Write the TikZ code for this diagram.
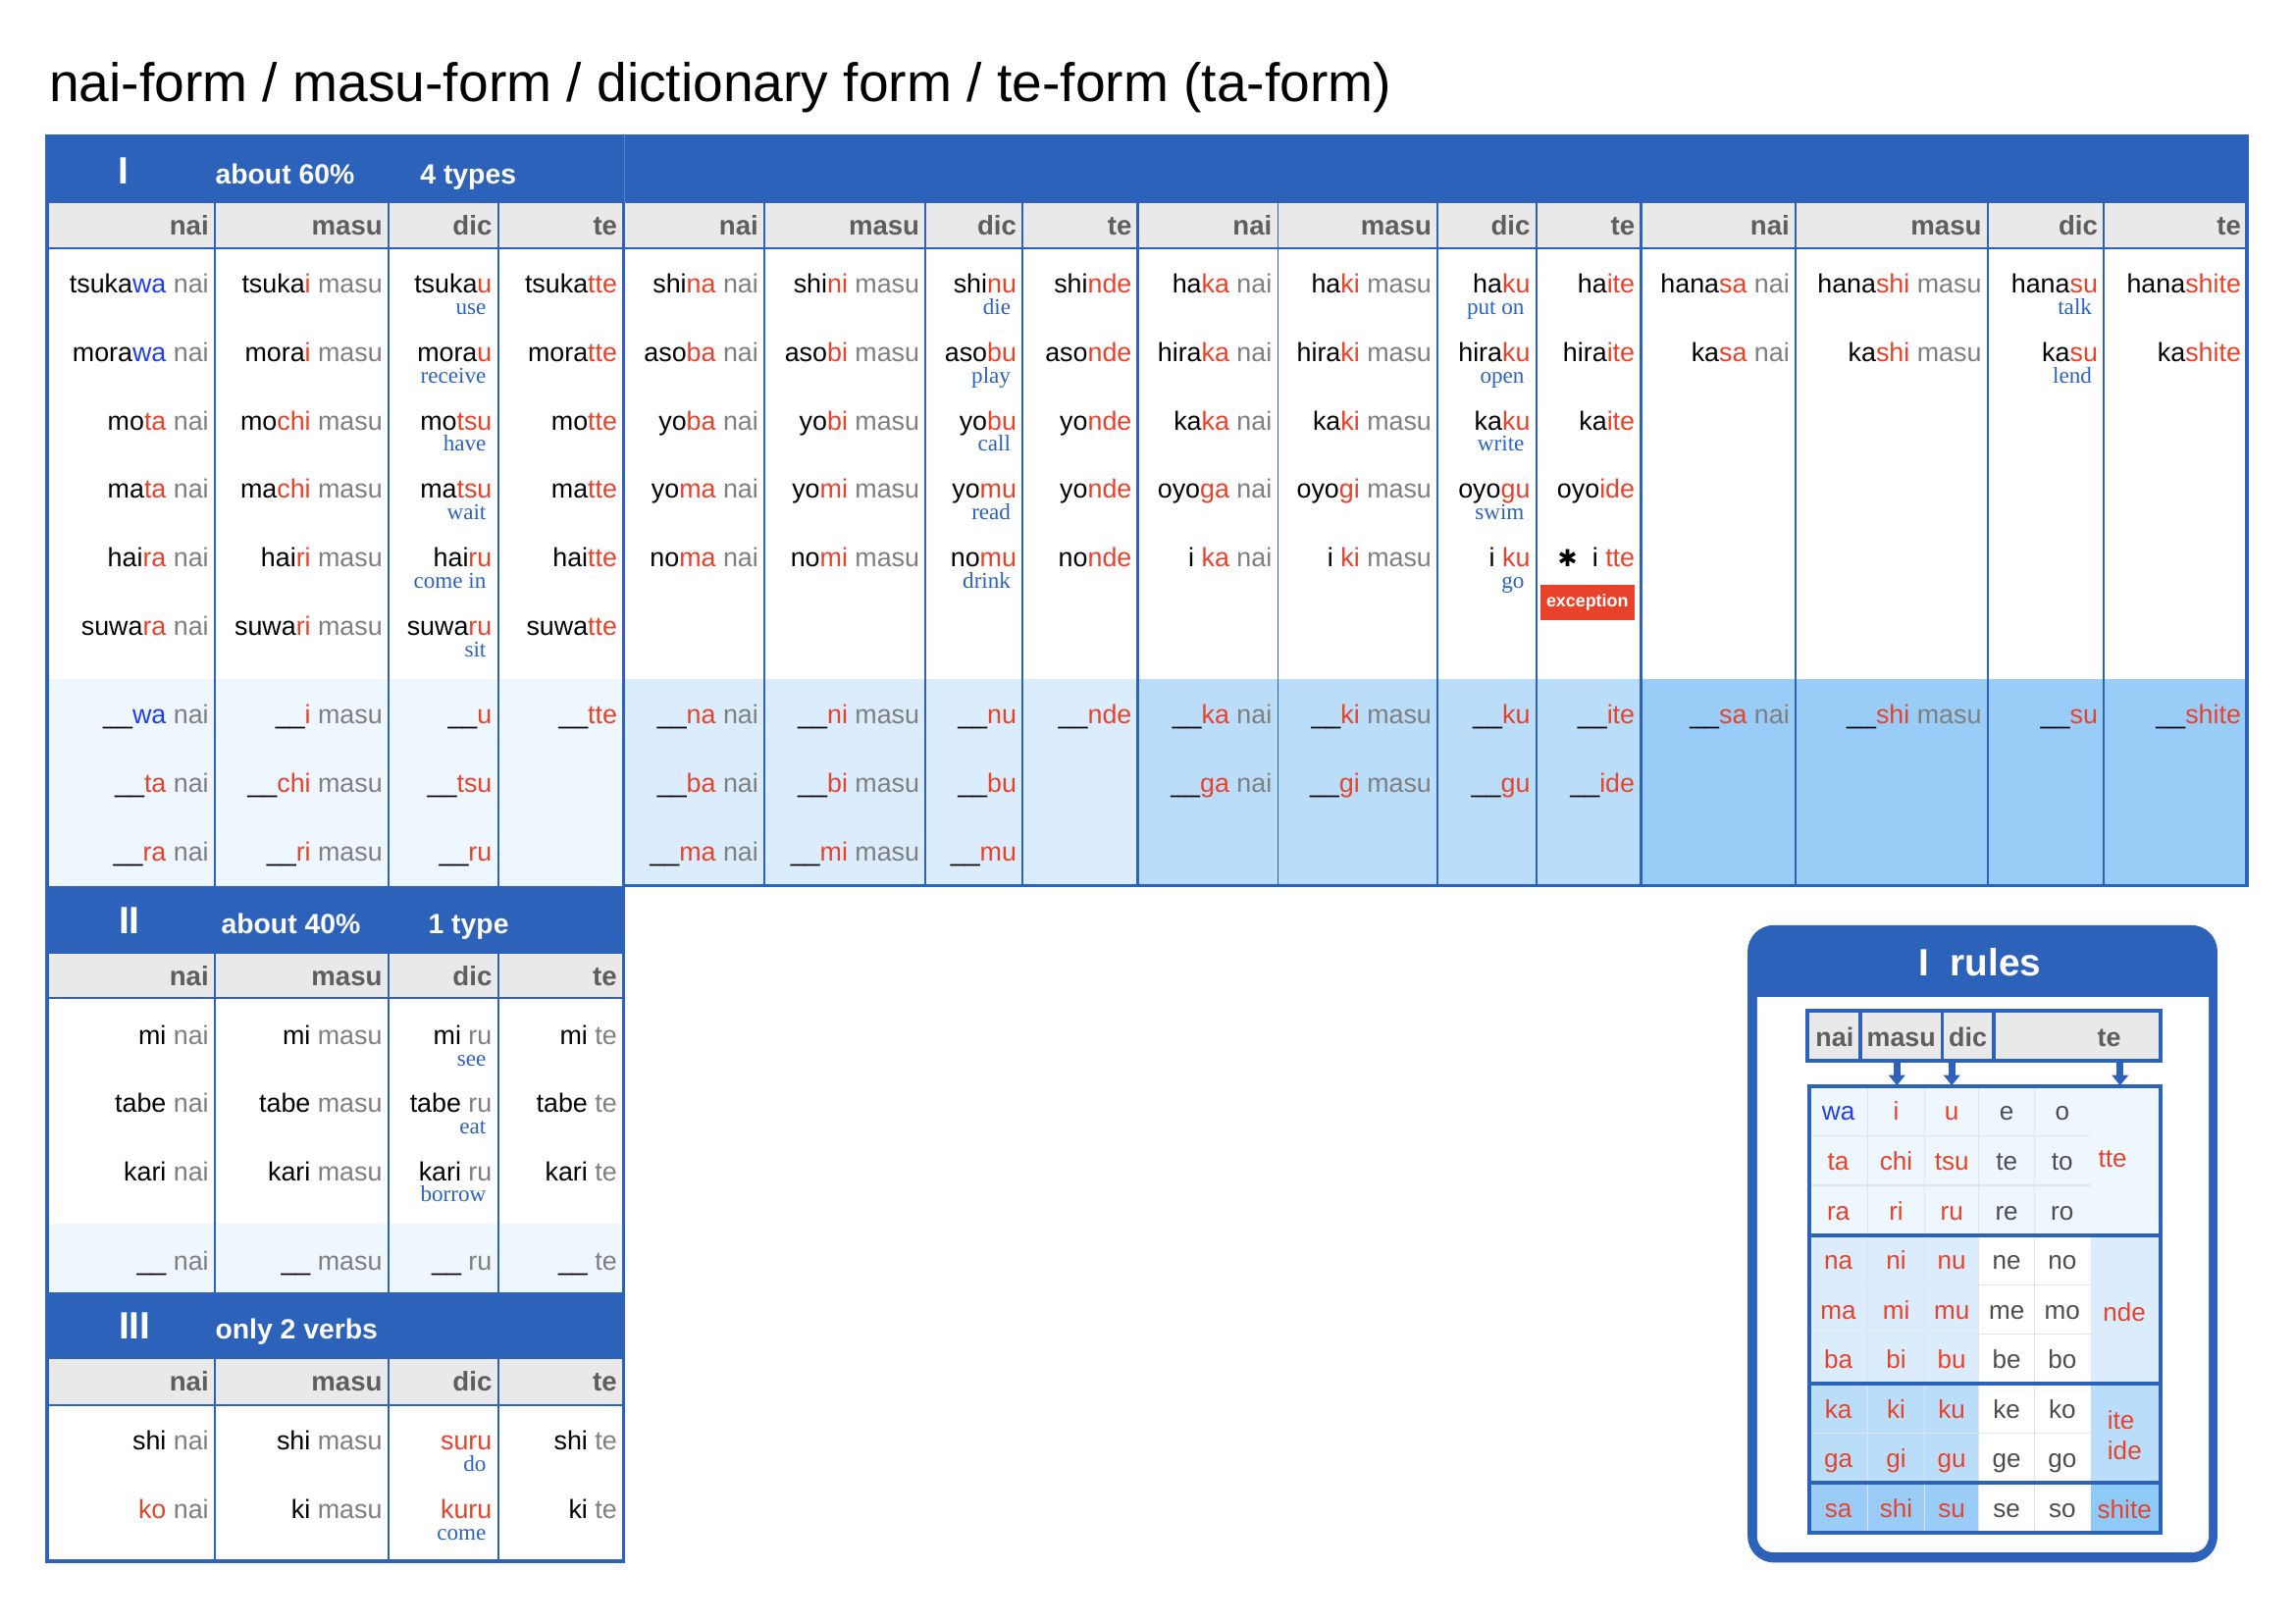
\documentclass[tikz,border=0pt]{standalone}
\usepackage{fontspec}
\setmainfont{Liberation Sans}
\newfontfamily\glfont{Liberation Serif}
\newfontfamily\djv{DejaVu Sans}
\usetikzlibrary{arrows.meta}
\definecolor{hblue}{HTML}{2C62B9}
\definecolor{hdbg}{HTML}{E9E9E9}
\definecolor{hdgray}{HTML}{5E5E5E}
\definecolor{myred}{HTML}{E8422B}
\definecolor{wablue}{HTML}{1F3DF2}
\definecolor{sufgray}{HTML}{7F7F7F}
\definecolor{glblue}{HTML}{2B62C0}
\definecolor{sha}{HTML}{EEF6FE}
\definecolor{shb}{HTML}{DBEDFC}
\definecolor{shc}{HTML}{BADEFA}
\definecolor{shd}{HTML}{99CDF7}
\definecolor{she}{HTML}{8ECAF7}
\definecolor{rgray}{HTML}{4D4D4D}
\definecolor{cellln}{HTML}{DDE6EF}
\newcommand\Rd[1]{\textcolor{myred}{#1}}
\newcommand\Bw[1]{\textcolor{wablue}{#1}}
\newcommand\Gy[1]{\textcolor{sufgray}{#1}}
\newcommand\U{\textcolor{black}{\_\_}}
\newcount\nc
\newcommand\TX[4]{\global\advance\nc by 1\relax\node[#1] (n\the\nc) at (#2,#3) {#4};}
\newcommand\setgrp[4]{\def\xa{#1}\def\xb{#2}\def\xc{#3}\def\xd{#4}}
\newcommand\vrow[6]{%
  \if\relax\detokenize{#2}\relax\else\TX{dtxt}{\xa-4}{#1}{#2}\fi
  \if\relax\detokenize{#3}\relax\else\TX{dtxt}{\xb-4}{#1}{#3}\fi
  \if\relax\detokenize{#4}\relax\else\TX{dtxt}{\xc-4}{#1}{#4}\fi
  \if\relax\detokenize{#5}\relax\else\TX{gtxt}{\xc-8}{#1+14.5}{#5}\fi
  \if\relax\detokenize{#6}\relax\else\TX{dtxt}{\xd-4}{#1}{#6}\fi}
\newcommand\hrow[1]{\TX{htxt}{\xa-4}{#1}{nai}\TX{htxt}{\xb-4}{#1}{masu}\TX{htxt}{\xc-4}{#1}{dic}\TX{htxt}{\xd-4}{#1}{te}}
\newcommand\RG[6]{\TX{rtxt}{1256}{#1}{#2}\TX{rtxt}{1295.5}{#1}{\Rd{#3}}\TX{rtxt}{1333.5}{#1}{\Rd{#4}}\TX{rtxt}{1371}{#1}{\textcolor{rgray}{#5}}\TX{rtxt}{1409}{#1}{\textcolor{rgray}{#6}}}
\begin{document}
\begin{tikzpicture}[x=1pt,y=-1pt,
  dtxt/.style={anchor=base east,inner sep=0pt,font=\fontsize{18}{20}\selectfont},
  gtxt/.style={anchor=base east,inner sep=0pt,font=\glfont\fontsize{15.5}{17}\selectfont,text=glblue},
  htxt/.style={anchor=base east,inner sep=0pt,font=\bfseries\fontsize{18.5}{20}\selectfont,text=hdgray},
  btxt/.style={anchor=base west,inner sep=0pt,font=\bfseries\fontsize{19}{21}\selectfont,text=white},
  numtxt/.style={anchor=base west,inner sep=0pt,font=\bfseries\fontsize{26}{28}\selectfont,text=white},
  rtxt/.style={anchor=base,inner sep=0pt,font=\fontsize{17.5}{19}\selectfont},
  rhtxt/.style={anchor=base,inner sep=0pt,font=\bfseries\fontsize{18}{20}\selectfont,text=hdgray},
  thk/.style={draw=hblue,line width=2.4pt},
  thn/.style={draw=hblue,line width=1.2pt},
  arr/.style={draw=hblue,line width=4.5pt,-{Triangle[width=11pt,length=7pt]}}]
\useasboundingbox (0,0) rectangle (1568,1109);
\fill[white] (0,0) rectangle (1568,1109);
% title
\node[anchor=base west,inner sep=0pt,font=\fontsize{37}{40}\selectfont] (title) at (33.5,69.5) {nai-form / masu-form / dictionary form / te-form (ta-form)};
% ---- fills
\fill[hblue] (31,92) rectangle (1536.5,138.5);
\draw[draw=hblue!80!white,line width=0.6pt] (426.5,92) -- (426.5,138.5);
\fill[hdbg] (32,138.5) rectangle (1536,169.4);
\fill[sha] (32,464) rectangle (426,605);
\fill[shb] (426,464) rectangle (777.4,605);
\fill[shc] (777.4,464) rectangle (1121.1,605);
\fill[shd] (1121.1,464) rectangle (1535.3,605);
\fill[hblue] (31,605) rectangle (427,651.4);
\fill[hdbg] (32,651.4) rectangle (426,681.9);
\fill[sha] (32,836) rectangle (426,883);
\fill[hblue] (31,883) rectangle (427,928.5);
\fill[hdbg] (32,928.5) rectangle (426,959.8);
% ---- thin lines
\foreach \x in {146.8,265.5,340.3,522.3,632.4,698.7,873.2,982.2,1049.6,1226.8,1358,1437.4}
  \draw[thn] (\x,138.5) -- (\x,605);
\draw[thn] (32,169.4) -- (1535.3,169.4);
\foreach \x in {146.8,265.3,340.3} {\draw[thn] (\x,651.4) -- (\x,883); \draw[thn] (\x,928.5) -- (\x,1066.6);}
\draw[thn] (32,681.9) -- (426,681.9);
\draw[thn] (32,959.8) -- (426,959.8);
% ---- thick lines
\draw[thk] (32,92) -- (32,1066.6) -- (426,1066.6) -- (426,138.5);
\foreach \x in {777.4,1121.1} \draw[thk] (\x,138.5) -- (\x,605);
\draw[thk] (426,605) -- (1535.3,605) -- (1535.3,92);
% ---- band headers
\node[numtxt] (numI) at (80.5,126) {I};
\node[btxt] (pctI) at (147,126) {about 60\%};
\node[btxt] (typI) at (287,126) {4 types};
\node[numtxt] (numII) at (81,638) {II};
\node[btxt] (pctII) at (151,638) {about 40\%};
\node[btxt] (typII) at (292.5,638) {1 type};
\node[numtxt] (numIII) at (81,915) {III};
\node[btxt] (typIII) at (147,915) {only 2 verbs};
% ---- group 1
\setgrp{146.8}{265.5}{340.3}{425.9}
\hrow{160.4}
\vrow{200.3}{tsuka\Bw{wa} \Gy{nai}}{tsuka\Rd{i} \Gy{masu}}{tsuka\Rd{u}}{use}{tsuka\Rd{tte}}
\vrow{247}{mora\Bw{wa} \Gy{nai}}{mora\Rd{i} \Gy{masu}}{mora\Rd{u}}{receive}{mora\Rd{tte}}
\vrow{293.8}{mo\Rd{ta} \Gy{nai}}{mo\Rd{chi} \Gy{masu}}{mo\Rd{tsu}}{have}{mo\Rd{tte}}
\vrow{340.5}{ma\Rd{ta} \Gy{nai}}{ma\Rd{chi} \Gy{masu}}{ma\Rd{tsu}}{wait}{ma\Rd{tte}}
\vrow{387.3}{hai\Rd{ra} \Gy{nai}}{hai\Rd{ri} \Gy{masu}}{hai\Rd{ru}}{come in}{hai\Rd{tte}}
\vrow{434}{suwa\Rd{ra} \Gy{nai}}{suwa\Rd{ri} \Gy{masu}}{suwa\Rd{ru}}{sit}{suwa\Rd{tte}}
\vrow{494.3}{\U\Bw{wa} \Gy{nai}}{\U\Rd{i} \Gy{masu}}{\U\Rd{u}}{}{\U\Rd{tte}}
\vrow{541}{\U\Rd{ta} \Gy{nai}}{\U\Rd{chi} \Gy{masu}}{\U\Rd{tsu}}{}{}
\vrow{588}{\U\Rd{ra} \Gy{nai}}{\U\Rd{ri} \Gy{masu}}{\U\Rd{ru}}{}{}
% ---- group 2
\setgrp{522.3}{632.4}{698.7}{777.4}
\hrow{160.4}
\vrow{200.3}{shi\Rd{na} \Gy{nai}}{shi\Rd{ni} \Gy{masu}}{shi\Rd{nu}}{die}{shi\Rd{nde}}
\vrow{247}{aso\Rd{ba} \Gy{nai}}{aso\Rd{bi} \Gy{masu}}{aso\Rd{bu}}{play}{aso\Rd{nde}}
\vrow{293.8}{yo\Rd{ba} \Gy{nai}}{yo\Rd{bi} \Gy{masu}}{yo\Rd{bu}}{call}{yo\Rd{nde}}
\vrow{340.5}{yo\Rd{ma} \Gy{nai}}{yo\Rd{mi} \Gy{masu}}{yo\Rd{mu}}{read}{yo\Rd{nde}}
\vrow{387.3}{no\Rd{ma} \Gy{nai}}{no\Rd{mi} \Gy{masu}}{no\Rd{mu}}{drink}{no\Rd{nde}}
\vrow{494.3}{\U\Rd{na} \Gy{nai}}{\U\Rd{ni} \Gy{masu}}{\U\Rd{nu}}{}{\U\Rd{nde}}
\vrow{541}{\U\Rd{ba} \Gy{nai}}{\U\Rd{bi} \Gy{masu}}{\U\Rd{bu}}{}{}
\vrow{588}{\U\Rd{ma} \Gy{nai}}{\U\Rd{mi} \Gy{masu}}{\U\Rd{mu}}{}{}
% ---- group 3
\setgrp{873.2}{982.2}{1049.6}{1121.1}
\hrow{160.4}
\vrow{200.3}{ha\Rd{ka} \Gy{nai}}{ha\Rd{ki} \Gy{masu}}{ha\Rd{ku}}{put on}{ha\Rd{ite}}
\vrow{247}{hira\Rd{ka} \Gy{nai}}{hira\Rd{ki} \Gy{masu}}{hira\Rd{ku}}{open}{hira\Rd{ite}}
\vrow{293.8}{ka\Rd{ka} \Gy{nai}}{ka\Rd{ki} \Gy{masu}}{ka\Rd{ku}}{write}{ka\Rd{ite}}
\vrow{340.5}{oyo\Rd{ga} \Gy{nai}}{oyo\Rd{gi} \Gy{masu}}{oyo\Rd{gu}}{swim}{oyo\Rd{ide}}
\vrow{387.3}{i \Rd{ka} \Gy{nai}}{i \Rd{ki} \Gy{masu}}{i \Rd{ku}}{go}{i \Rd{tte}}
\vrow{494.3}{\U\Rd{ka} \Gy{nai}}{\U\Rd{ki} \Gy{masu}}{\U\Rd{ku}}{}{\U\Rd{ite}}
\vrow{541}{\U\Rd{ga} \Gy{nai}}{\U\Rd{gi} \Gy{masu}}{\U\Rd{gu}}{}{\U\Rd{ide}}
\node[inner sep=0pt,font=\djv\fontsize{16}{17}\selectfont] (ast) at (1071,381.5) {✱};
\node[fill=myred,text=white,font=\bfseries\fontsize{12}{13}\selectfont,inner sep=0pt,minimum width=64pt,minimum height=24pt] (exc) at (1084.5,411.5) {exception};
% ---- group 4
\setgrp{1226.8}{1358}{1437.4}{1535.3}
\hrow{160.4}
\vrow{200.3}{hana\Rd{sa} \Gy{nai}}{hana\Rd{shi} \Gy{masu}}{hana\Rd{su}}{talk}{hana\Rd{shite}}
\vrow{247}{ka\Rd{sa} \Gy{nai}}{ka\Rd{shi} \Gy{masu}}{ka\Rd{su}}{lend}{ka\Rd{shite}}
\vrow{494.3}{\U\Rd{sa} \Gy{nai}}{\U\Rd{shi} \Gy{masu}}{\U\Rd{su}}{}{\U\Rd{shite}}
% ---- table II
\setgrp{146.8}{265.3}{340.3}{425.7}
\hrow{673.6}
\vrow{713.6}{mi \Gy{nai}}{mi \Gy{masu}}{mi \Gy{ru}}{see}{mi \Gy{te}}
\vrow{759.8}{tabe \Gy{nai}}{tabe \Gy{masu}}{tabe \Gy{ru}}{eat}{tabe \Gy{te}}
\vrow{806.5}{kari \Gy{nai}}{kari \Gy{masu}}{kari \Gy{ru}}{borrow}{kari \Gy{te}}
\vrow{867.5}{\U\ \Gy{nai}}{\U\ \Gy{masu}}{\U\ \Gy{ru}}{}{\U\ \Gy{te}}
% ---- table III
\hrow{950.5}
\vrow{990.6}{shi \Gy{nai}}{shi \Gy{masu}}{\Rd{suru}}{do}{shi \Gy{te}}
\vrow{1037.4}{\Rd{ko} \Gy{nai}}{ki \Gy{masu}}{\Rd{kuru}}{come}{ki \Gy{te}}
% ---- rules box
\fill[hblue,rounded corners=18pt] (1194,632) rectangle (1515,1067.5);
\fill[white,rounded corners=11pt] (1200.5,668) rectangle (1509,1060.5);
\fill[hblue] (1200,660) rectangle (1509.5,681);
\node[anchor=base west,inner sep=0pt,font=\bfseries\fontsize{26}{28}\selectfont,text=white] (rtitle) at (1311,667) {I\hspace{14pt}rules};
% header strip
\fill[hdbg] (1235,690.5) rectangle (1476,724.4);
\draw[hblue,line width=2.8pt] (1235,690.5) rectangle (1476,724.4);
\foreach \x in {1271,1327,1362} \draw[hblue,line width=2.4pt] (\x,690.5) -- (\x,724.4);
\node[rhtxt] (rhnai) at (1253.5,715) {nai};
\node[rhtxt] (rhmasu) at (1299,715) {masu};
\node[rhtxt] (rhdic) at (1344.5,715) {dic};
\node[rhtxt] (rhte) at (1441,715) {te};
% grid fills
\fill[sha] (1236,742) rectangle (1476,843.7);
\fill[shb] (1236,843.7) rectangle (1352,945.4);
\fill[shb] (1428.5,843.7) rectangle (1476,945.4);
\fill[shc] (1236,945.4) rectangle (1352,1013.2);
\fill[shc] (1428.5,945.4) rectangle (1476,1013.2);
\fill[shd] (1236,1013.2) rectangle (1352,1047.1);
\fill[she] (1428.5,1013.2) rectangle (1476,1047.1);
\foreach \x in {1276,1315,1352,1390} \draw[cellln,line width=0.8pt] (\x,742) -- (\x,1047.1);
\foreach \y in {775.9,809.8,877.6,911.5,979.3} \draw[cellln,line width=0.8pt] (1236,\y) -- (1428.5,\y);
\draw[hblue,line width=2.6pt] (1236,742) rectangle (1476,1047.1);
\foreach \y in {843.7,945.4,1013.2} \draw[hblue,line width=2.6pt] (1236,\y) -- (1476,\y);
% arrows
\coordinate (a1s) at (1296,725.5); \coordinate (a1e) at (1296,741.5);
\coordinate (a2s) at (1333.5,725.5); \coordinate (a2e) at (1333.5,741.5);
\coordinate (a3s) at (1448.5,725.5); \coordinate (a3e) at (1448.5,741.5);
\draw[arr] (a1s) -- (a1e);
\draw[arr] (a2s) -- (a2e);
\draw[arr] (a3s) -- (a3e);
% grid text
\RG{765.5}{\Bw{wa}}{i}{u}{e}{o}
\RG{799.4}{\Rd{ta}}{chi}{tsu}{te}{to}
\RG{833.3}{\Rd{ra}}{ri}{ru}{re}{ro}
\RG{867.2}{\Rd{na}}{ni}{nu}{ne}{no}
\RG{901.1}{\Rd{ma}}{mi}{mu}{me}{mo}
\RG{935}{\Rd{ba}}{bi}{bu}{be}{bo}
\RG{968.9}{\Rd{ka}}{ki}{ku}{ke}{ko}
\RG{1002.8}{\Rd{ga}}{gi}{gu}{ge}{go}
\RG{1036.7}{\Rd{sa}}{shi}{su}{se}{so}
\node[rtxt,anchor=base west,text=myred] (rtte) at (1433.5,797.7) {tte};
\node[rtxt,text=myred] (rnde) at (1451.5,902.5) {nde};
\node[rtxt,anchor=base west,text=myred] (rite) at (1439.7,976.7) {ite};
\node[rtxt,anchor=base west,text=myred] (ride) at (1439.7,997) {ide};
\node[rtxt,text=myred] (rshite) at (1451.5,1037.7) {shite};
\end{tikzpicture}
\end{document}
